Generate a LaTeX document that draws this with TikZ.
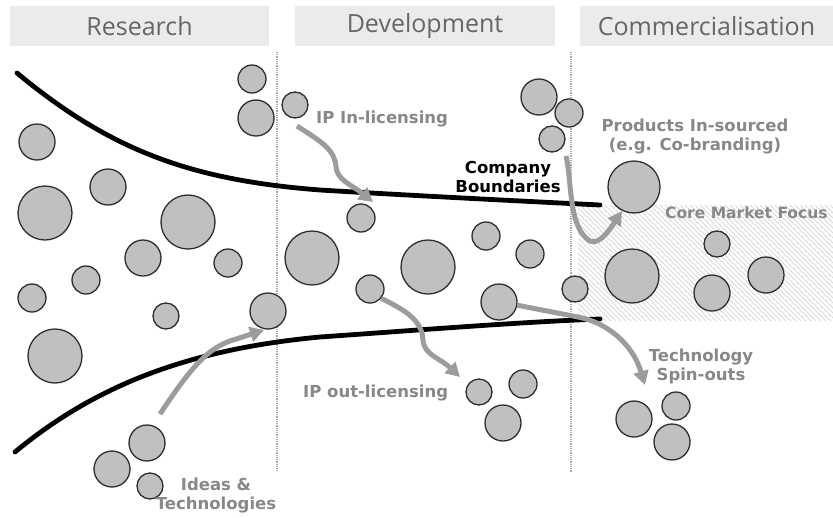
\documentclass[tikz,border=0pt]{standalone}
\usepackage{fontspec}
\setmainfont{DejaVu Sans}
\newfontfamily\headfont{Open Sans}
\usetikzlibrary{arrows.meta}
\definecolor{bubfill}{HTML}{C0C0C0}
\definecolor{bubline}{HTML}{2E2E2E}
\definecolor{headfill}{HTML}{EBEBEB}
\definecolor{headtext}{HTML}{666666}
\definecolor{labelgray}{HTML}{888888}
\definecolor{flowgray}{HTML}{9C9C9C}
\definecolor{hatchgray}{HTML}{D9D9D9}
\definecolor{divider}{HTML}{A8A8A8}

\begin{document}
\begin{tikzpicture}[x=1pt,y=-1pt,
  bubble/.style={circle, fill=bubfill, draw=bubline, line width=1.3pt, inner sep=0pt, minimum size=#1},
  header/.style={fill=headfill, minimum height=40pt, inner sep=0pt,
    font=\headfont\fontsize{25}{28}\selectfont, text=headtext},
  lbl/.style={font=\bfseries\fontsize{16.5}{19}\selectfont, text=labelgray, align=center, inner sep=0pt},
  blacklbl/.style={lbl, text=black},
  boundary/.style={line width=4.8pt, line cap=round, draw=black},
  flow/.style={draw=flowgray, line width=5pt, -{Triangle[length=14pt,width=15pt]}},
  divline/.style={draw=divider, line width=1.6pt, dash pattern=on 1pt off 0.8pt},
  hatch/.style={draw=hatchgray, line width=0.9pt}]

\useasboundingbox (0,0) rectangle (833,517);

% core market focus area
\begin{scope}
  \clip (578,205) rectangle (833,321);
  \foreach \s in {440,445,...,835} \draw[hatch] (\s,205) -- ++(116,116);
\end{scope}

% stage headers
\node[header, minimum width=259pt] (hR) at (139.5,26) {Research};
\node[header, minimum width=260pt] (hD) at (425,26) {Development};
\node[header, minimum width=253pt] (hC) at (706.5,26) {Commercialisation};

% stage dividers
\coordinate (v1t) at (277,52); \coordinate (v1b) at (277,470);
\coordinate (v2t) at (571,52); \coordinate (v2b) at (571,472);
\draw[divline] (v1t) -- (v1b);
\draw[divline] (v2t) -- (v2b);

% company boundaries
\coordinate (ub0) at (17,73);  \coordinate (ub1) at (320,190); \coordinate (ub2) at (600,205);
\coordinate (lb0) at (15,452); \coordinate (lb1) at (320,337); \coordinate (lb2) at (600,319);
\draw[boundary] (ub0) .. controls (110,150) and (190,180) .. (ub1)
                .. controls (420,196) and (520,201) .. (ub2);
\draw[boundary] (lb0) .. controls (90,390) and (180,350) .. (lb1)
                .. controls (420,330) and (520,322) .. (lb2);

% research ideas
\node[bubble=28pt] (r1)  at (252,79)  {};
\node[bubble=36pt] (r2)  at (256,118) {};
\node[bubble=36pt] (r3)  at (37,142)  {};
\node[bubble=36pt] (r4)  at (108,187) {};
\node[bubble=54pt] (r5)  at (45,213)  {};
\node[bubble=54pt] (r6)  at (188,222) {};
\node[bubble=36pt] (r7)  at (143,258) {};
\node[bubble=28pt] (r8)  at (228,263) {};
\node[bubble=28pt] (r9)  at (86,280)  {};
\node[bubble=28pt] (r10) at (32,298)  {};
\node[bubble=26pt] (r11) at (166,316) {};
\node[bubble=36pt] (r12) at (268,311) {};
\node[bubble=54pt] (r13) at (55,356)  {};
\node[bubble=36pt] (i1)  at (147,443) {};
\node[bubble=36pt] (i2)  at (112,469) {};
\node[bubble=26pt] (i3)  at (150,486) {};

% development projects
\node[bubble=26pt] (d1)  at (295,105) {};
\node[bubble=28pt] (d2)  at (361,218) {};
\node[bubble=54pt] (d3)  at (312,258) {};
\node[bubble=28pt] (d4)  at (370,289) {};
\node[bubble=54pt] (d5)  at (428,267) {};
\node[bubble=28pt] (d6)  at (486,236) {};
\node[bubble=28pt] (d7)  at (530,254) {};
\node[bubble=36pt] (d8)  at (499,302) {};
\node[bubble=26pt] (d9)  at (575,289) {};
\node[bubble=26pt] (o1)  at (479,392) {};
\node[bubble=28pt] (o2)  at (523,384) {};
\node[bubble=36pt] (o3)  at (503,423) {};
\node[bubble=36pt] (t1)  at (539,97)  {};
\node[bubble=28pt] (t2)  at (569,113) {};
\node[bubble=26pt] (t3)  at (552,139) {};

% commercialisation
\node[bubble=52pt] (c1)  at (634,187) {};
\node[bubble=54pt] (c2)  at (632,276) {};
\node[bubble=26pt] (c3)  at (717,244) {};
\node[bubble=36pt] (c4)  at (766,275) {};
\node[bubble=36pt] (c5)  at (712,293) {};
\node[bubble=36pt] (s1)  at (634,419) {};
\node[bubble=28pt] (s2)  at (676,406) {};
\node[bubble=36pt] (s3)  at (672,442) {};

% flows
\coordinate (ipinS) at (297,126);   \coordinate (ipinE) at (373,202);
\coordinate (insS)  at (566,156);   \coordinate (insE)  at (622,211);
\coordinate (outE)  at (460,377);
\coordinate (spinE) at (645,385);
\coordinate (ideaS) at (160,414);   \coordinate (ideaE) at (264,330);

\draw[flow] (ipinS) .. controls (322,142) and (335,150) .. (336,167)
            .. controls (337,180) and (352,185) .. (ipinE);
\draw[flow] (insS) .. controls (572,180) and (568,228) .. (590,241)
            .. controls (600,246) and (612,226) .. (insE);
\draw[flow] (d4.-40) .. controls (405,310) and (422,320) .. (423,340)
            .. controls (424,355) and (440,358) .. (outE);
\draw[flow] (d8.-10) -- (578,317) .. controls (605,322) and (632,342) .. (spinE);
\draw[flow] (ideaS) .. controls (188,372) and (205,350) .. (230,341) -- (ideaE);

% labels
\node[lbl, anchor=west] (lipin) at (316,119) {IP In-licensing};
\node[blacklbl] (lcb) at (508,177) {Company\\Boundaries};
\node[lbl] (lins) at (695,137) {Products In-sourced\\(e.g. Co-branding)};
\node[lbl, anchor=west, font=\bfseries\fontsize{15.5}{19}\selectfont] (lcore) at (665,213) {Core Market Focus};
\node[lbl] (lspin) at (701,366) {Technology\\Spin-outs};
\node[lbl, anchor=west] (lout) at (303,393) {IP out-licensing};
\node[lbl] (lidea) at (216,496) {Ideas \&\\Technologies};

\end{tikzpicture}
\end{document}
